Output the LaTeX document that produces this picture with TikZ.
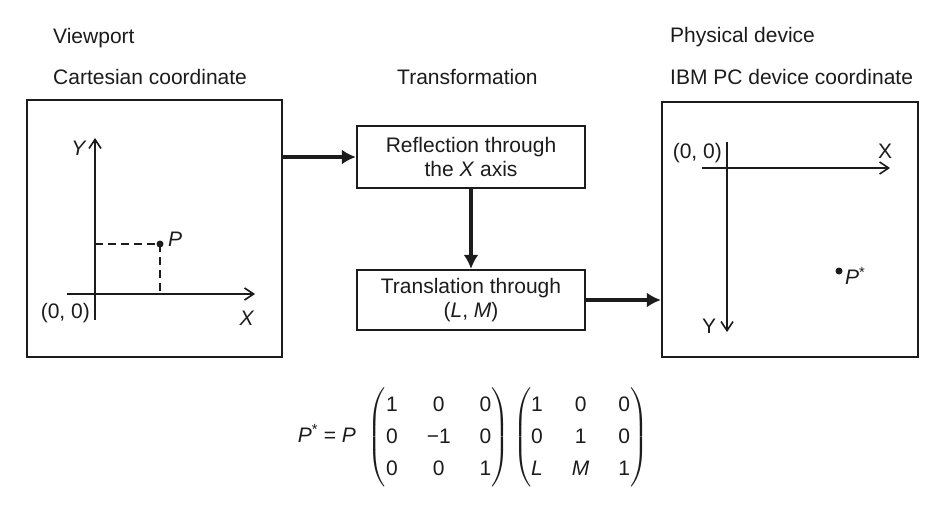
\documentclass[tikz,border=0pt]{standalone}
\usepackage{amsmath}
\usepackage{fontspec}
\setmainfont{Liberation Sans}
\usetikzlibrary{arrows.meta,positioning,calc}
\definecolor{Ink}{HTML}{1C1C1C}
\setlength{\arraycolsep}{14.5pt}
\renewcommand{\arraystretch}{1.33}
\tikzset{
  heading/.style={font=\fontsize{21}{24}\selectfont,text=Ink,inner sep=0pt,anchor=base west},
  tag/.style={font=\fontsize{21}{24}\selectfont,text=Ink,inner sep=0pt},
  panel/.style={draw=Ink,line width=2.2pt,inner sep=0pt},
  stepbox/.style={draw=Ink,line width=2.2pt,minimum width=228pt,minimum height=62pt,align=center,
    font=\fontsize{21}{24}\selectfont,text=Ink,inner sep=0pt},
  bigArrow/.style={-{Latex[length=14pt,width=15pt]},line width=4pt,draw=Ink},
  axisArrow/.style={-{Straight Barb[length=9pt,width=12pt]},line width=1.6pt,draw=Ink},
  guide/.style={dash pattern=on 8pt off 5pt,line width=1.6pt,draw=Ink},
  dot/.style={circle,fill=Ink,inner sep=0pt,minimum size=7pt}
}
\begin{document}
\begin{tikzpicture}[x=1pt,y=-1pt]
\useasboundingbox[fill=white] (0,0) rectangle (929,508);

% headings
\node[heading] (hview) at (53,44) {Viewport};
\node[heading] (hcart) at (53,85) {Cartesian coordinate};
\node[heading] (htrans) at (397,85) {Transformation};
\node[heading] (hphys) at (670,43) {Physical device};
\node[heading] (hibm) at (670,85) {IBM PC device coordinate};

% panels and transformation steps
\node[panel,minimum width=255pt,minimum height=257pt] (view) at (154.5,228.5) {};
\node[panel,minimum width=256pt,minimum height=255pt] (device) at (790,229.5) {};
\node[stepbox] (refl) at (471,157) {Reflection through\\the \textit{X} axis};
\node[stepbox,minimum height=60pt] (transl) at (471,300) {Translation through\\(\textit{L}, \textit{M})};

\draw[bigArrow] (refl.west -| view.east) -- (refl.west);
\draw[bigArrow] (refl) -- (transl);
\draw[bigArrow] (transl.east) -- (transl.east -| device.west);

% Cartesian axes
\coordinate (xa) at (67,294);
\coordinate (xb) at (255,294);
\coordinate (ya) at (95,320);
\coordinate (yb) at (95,138);
\draw[axisArrow] (xa) -- (xb);
\draw[axisArrow] (ya) -- (yb);
\node[dot] (p) at (160,244) {};
\draw[guide] (p.center -| ya) -- (p.center) -- (p.center |- xa);
\node[tag,anchor=east] (o1) at (90,313) {(0, 0)};
\node[tag] (x1) at (247,318) {\textit{X}};
\node[tag] (y1) at (79,148) {\textit{Y}};
\node[tag,anchor=west] (p1) at (168,239) {\textit{P}};

% device axes
\coordinate (ua) at (702,168);
\coordinate (ub) at (890,168);
\coordinate (va) at (727,142);
\coordinate (vb) at (727,332);
\draw[axisArrow] (ua) -- (ub);
\draw[axisArrow] (va) -- (vb);
\node[tag,anchor=east] (o2) at (722,153) {(0, 0)};
\node[tag] (x2) at (885,151) {X};
\node[tag] (y2) at (709,326) {Y};
\node[dot] (ps) at (839,271) {};
\node[tag,anchor=west] (p2) at (845,276) {\textit{P}\textsuperscript{*}};

% composite matrix
\node[tag] (eq) at (473,437) {\textit{P}\textsuperscript{*} = \textit{P}\hspace{12pt}%
  $\left(\begin{array}{@{}ccc@{}}\text{1}&\text{0}&\text{0}\\\text{0}&\text{−1}&\text{0}\\\text{0}&\text{0}&\text{1}\end{array}\right)
  \left(\begin{array}{@{}ccc@{}}\text{1}&\text{0}&\text{0}\\\text{0}&\text{1}&\text{0}\\\text{\textit{L}}&\text{\textit{M}}&\text{1}\end{array}\right)$};
\end{tikzpicture}
\end{document}
